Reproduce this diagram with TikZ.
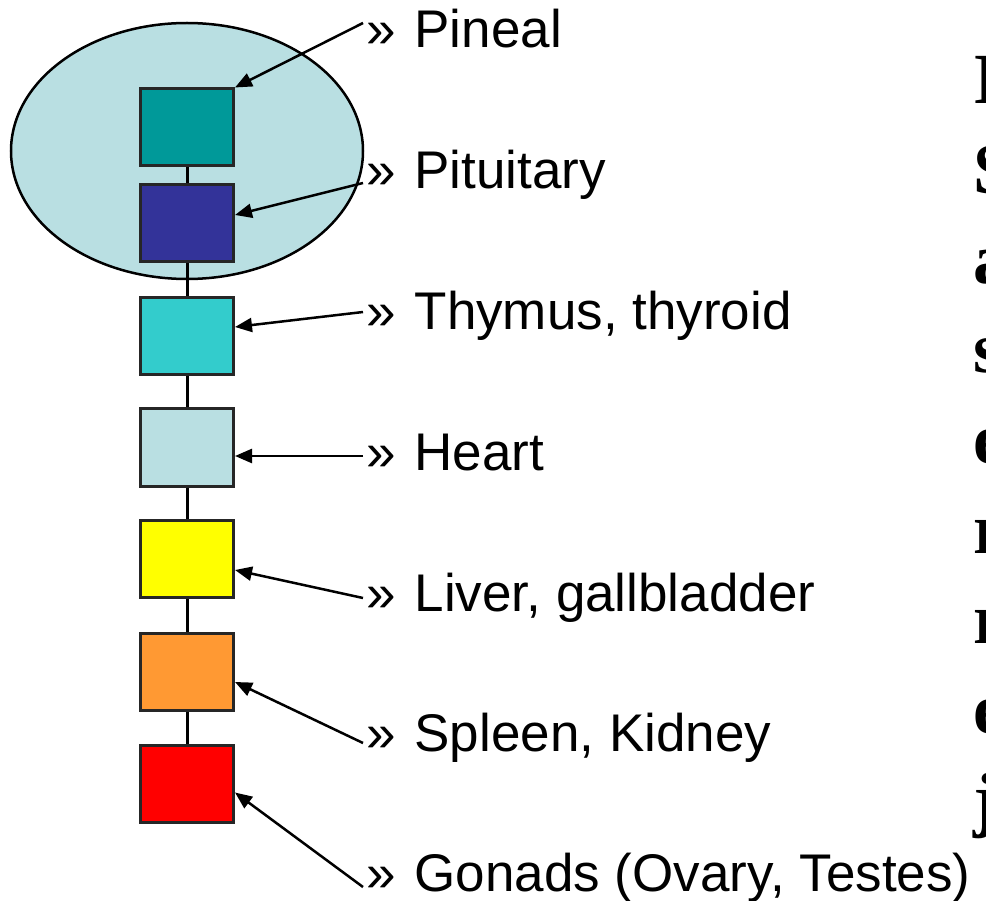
\documentclass[tikz,border=0pt]{standalone}
\usepackage{fontspec}
\setmainfont{Liberation Sans}
\newfontfamily\serifbold{Liberation Serif}
\usetikzlibrary{arrows.meta}
\definecolor{ellfill}{HTML}{B9DFE2}
\definecolor{cA}{HTML}{009999}
\definecolor{cB}{HTML}{333399}
\definecolor{cC}{HTML}{33CCCC}
\definecolor{cD}{HTML}{B9DFE2}
\definecolor{cE}{HTML}{FFFF00}
\definecolor{cF}{HTML}{FF9933}
\definecolor{cG}{HTML}{FF0000}
\tikzset{
  organ/.style={draw=black!85, line width=3pt, minimum width=93pt, minimum height=77pt, inner sep=0pt},
  link/.style={line width=3pt},
  pointer/.style={line width=2.5pt, -{Triangle[length=17pt,width=14pt]}},
  lbl/.style={anchor=base west, inner sep=0pt, font=\fontsize{53}{62}\selectfont},
  edge/.style={anchor=base west, inner sep=0pt, font=\serifbold\bfseries\fontsize{72}{84}\selectfont}
}
\begin{document}
\begin{tikzpicture}[x=1pt,y=-1pt]
\useasboundingbox (0,0) rectangle (986,901);
\fill[white] (0,0) rectangle (986,901);
\begin{scope}
\clip (0,0) rectangle (986,901);
% ellipse
\draw[fill=ellfill, line width=2.5pt] (187,151) ellipse [x radius=176, y radius=128];
% boxes
\node[organ, fill=cA] (b1) at (187,127.5) {};
\node[organ, fill=cB] (b2) at (187,223) {};
\node[organ, fill=cC] (b3) at (187,336) {};
\node[organ, fill=cD] (b4) at (187,447.5) {};
\node[organ, fill=cE] (b5) at (187,559) {};
\node[organ, fill=cF] (b6) at (187,672) {};
\node[organ, fill=cG] (b7) at (187,783.5) {};
\draw[link] (b1.south) -- (b2.north);
\draw[link] (b2.south) -- (b3.north);
\draw[link] (b3.south) -- (b4.north);
\draw[link] (b4.south) -- (b5.north);
\draw[link] (b5.south) -- (b6.north);
\draw[link] (b6.south) -- (b7.north);
% labels
\node[lbl] (l1) at (366,48) {»\hspace{19pt}Pineal};
\node[lbl] (l2) at (366,189) {»\hspace{19pt}Pituitary};
\node[lbl] (l3) at (366,330) {»\hspace{19pt}Thymus, thyroid};
\node[lbl] (l4) at (366,471) {»\hspace{19pt}Heart};
\node[lbl] (l5) at (366,611) {»\hspace{19pt}Liver, gallbladder};
\node[lbl] (l6) at (366,751) {»\hspace{19pt}Spleen, Kidney};
\node[lbl] (l7) at (366,891) {»\hspace{19pt}Gonads (Ovary, Testes)};
% arrow starts
\coordinate (s1) at (363,23);
\coordinate (s2) at (363,183);
\coordinate (s3) at (363,312);
\coordinate (s4) at (363,456);
\coordinate (s5) at (363,598);
\coordinate (s6) at (363,743);
\coordinate (s7) at (363,887);
\draw[pointer] (s1) -- (b1.north east);
\draw[pointer] (s2) -- ([yshift=8pt]b2.east);
\draw[pointer] (s3) -- ([yshift=9pt]b3.east);
\draw[pointer] (s4) -- ([yshift=-8.5pt]b4.east);
\draw[pointer] (s5) -- ([yshift=-11pt]b5.east);
\draw[pointer] (s6) -- ([yshift=-10pt]b6.east);
\draw[pointer] (s7) -- ([yshift=-9pt]b7.east);
% clipped text at the right edge (cut off as in the reference)
\node[edge] (r1) at (973,104) {I};
\node[edge] (r2) at (973,194) {S};
\node[edge] (r3) at (973,284) {a};
\node[edge] (r4) at (973,373) {s};
\node[edge] (r5) at (973,463) {e};
\node[edge] (r6) at (973,553) {r};
\node[edge] (r7) at (973,643) {r};
\node[edge] (r8) at (973,733) {e};
\node[edge] (r9) at (973,823) {j};
\end{scope}
\end{tikzpicture}
\end{document}
